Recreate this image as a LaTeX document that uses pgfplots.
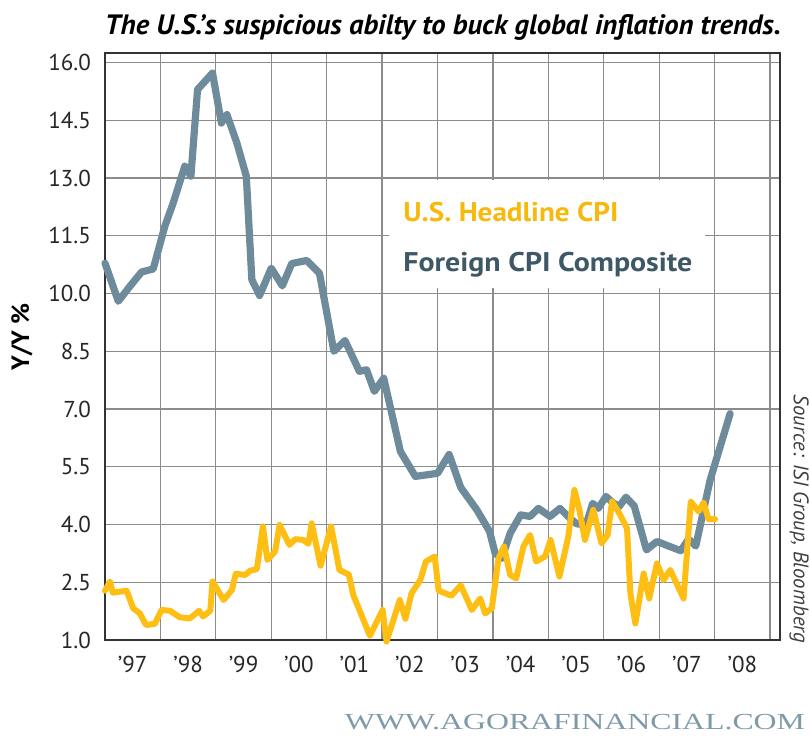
\documentclass[border=0pt]{standalone}
\usepackage{pgfplots}
\pgfplotsset{compat=1.18}
\usepackage{fontspec}
\usepackage{graphicx}
\setmainfont{PT Sans}
\newfontfamily\serifmark{Liberation Serif}
\definecolor{foreign}{HTML}{6E8B9B}
\definecolor{foreigntext}{HTML}{3F5866}
\definecolor{uscpi}{HTML}{FFBE14}
\definecolor{ustext}{HTML}{F7B90C}
\definecolor{mark}{HTML}{7F9AA8}
\begin{document}
\begin{tikzpicture}
\path[use as bounding box] (-52.5pt,-50pt) rectangle (352.5pt,320pt);
\begin{axis}[
  at={(0,0)}, anchor=south west,
  width=337.5pt, height=293.5pt, scale only axis,
  xmin=1997, xmax=2009.18, ymin=1, ymax=16.25,
  xtick={1997.5,1998.5,1999.5,2000.5,2001.5,2002.5,2003.5,2004.5,2005.5,2006.5,2007.5,2008.5},
  xticklabels={’97,’98,’99,’00,’01,’02,’03,’04,’05,’06,’07,’08},
  minor xtick={1998,1999,2000,2001,2002,2003,2004,2005,2006,2007,2008,2009},
  ytick={1,2.5,4,5.5,7,8.5,10,11.5,13,14.5,16},
  yticklabels={1.0,2.5,4.0,5.5,7.0,8.5,10.0,11.5,13.0,14.5,16.0},
  xmajorgrids=false, xminorgrids=true, ymajorgrids=true,
  grid style={black!45, line width=0.6pt},
  minor grid style={black!45, line width=0.6pt},
  major tick length=0pt, minor tick length=0pt,
  axis line style={line width=1.1pt, black!80},
  tick label style={font=\fontsize{11.5}{13}\selectfont, black!85},
  yticklabel style={xshift=-3.5pt},
  xticklabel style={yshift=-4.5pt},
  /pgf/number format/assume math mode=true,
  clip=false,
]
\addplot[foreign, line width=3.6pt, line join=round, line cap=round] coordinates {
(1997.00,10.79) (1997.24,9.80) (1997.45,10.19) (1997.66,10.56) (1997.87,10.64)
(1998.08,11.75) (1998.23,12.35) (1998.44,13.31) (1998.55,13.05) (1998.67,15.30)
(1998.94,15.73) (1999.10,14.43) (1999.20,14.65) (1999.38,13.91) (1999.55,13.05)
(1999.65,10.36) (1999.79,9.95) (2000.00,10.66) (2000.20,10.20) (2000.37,10.78)
(2000.64,10.86) (2000.87,10.53) (2001.13,8.50) (2001.33,8.78) (2001.59,7.98)
(2001.72,8.02) (2001.86,7.46) (2002.03,7.80) (2002.33,5.90) (2002.60,5.25)
(2003.00,5.33) (2003.21,5.82) (2003.42,4.96) (2003.71,4.38) (2003.94,3.82)
(2004.04,3.25) (2004.16,3.12) (2004.31,3.77) (2004.50,4.25) (2004.67,4.21)
(2004.82,4.42) (2005.03,4.21) (2005.21,4.42) (2005.39,4.16) (2005.51,4.02)
(2005.68,3.99) (2005.80,4.55) (2005.90,4.42) (2006.04,4.73) (2006.16,4.57)
(2006.28,4.47) (2006.40,4.71) (2006.55,4.48) (2006.77,3.34) (2006.96,3.56)
(2007.17,3.44) (2007.39,3.32) (2007.53,3.62) (2007.66,3.44) (2007.92,5.16)
(2008.28,6.88)
};
\addplot[uscpi, line width=3.0pt, line join=round, line cap=round] coordinates {
(1997.00,2.28) (1997.09,2.52) (1997.14,2.23) (1997.39,2.28) (1997.51,1.82)
(1997.63,1.69) (1997.74,1.39) (1997.90,1.42) (1998.02,1.78) (1998.17,1.76)
(1998.35,1.59) (1998.53,1.56) (1998.70,1.76) (1998.77,1.61) (1998.90,1.76)
(1998.94,2.52) (1999.14,2.04) (1999.29,2.30) (1999.36,2.72) (1999.53,2.69)
(1999.62,2.80) (1999.74,2.84) (1999.85,3.95) (1999.93,3.08) (2000.07,3.30)
(2000.15,3.99) (2000.33,3.47) (2000.43,3.62) (2000.58,3.60) (2000.67,3.50)
(2000.73,4.03) (2000.89,2.93) (2001.08,3.95) (2001.23,2.82) (2001.40,2.70)
(2001.48,2.17) (2001.78,1.11) (2002.01,1.78) (2002.08,0.96) (2002.32,2.04)
(2002.42,1.55) (2002.53,2.21) (2002.69,2.56) (2002.79,3.04) (2002.95,3.17)
(2003.02,2.28) (2003.25,2.15) (2003.42,2.42) (2003.62,1.78) (2003.77,2.08)
(2003.86,1.69) (2003.98,1.82) (2004.10,3.12) (2004.20,3.43) (2004.31,2.69)
(2004.42,2.60) (2004.55,3.43) (2004.67,3.73) (2004.78,3.04) (2004.94,3.17)
(2005.04,3.60) (2005.20,2.65) (2005.36,3.69) (2005.47,4.90) (2005.56,4.38)
(2005.66,3.60) (2005.81,4.38) (2005.96,3.51) (2006.07,3.73) (2006.15,4.60)
(2006.28,4.29) (2006.42,3.90) (2006.48,2.21) (2006.57,1.43) (2006.72,2.73)
(2006.82,2.08) (2006.96,2.99) (2007.08,2.56) (2007.20,2.82) (2007.44,2.08)
(2007.57,4.60) (2007.71,4.34) (2007.80,4.57) (2007.89,4.14) (2008.01,4.14)
};
\fill[white] (axis cs:2002.13,12.96) rectangle (axis cs:2007.83,10.15);
\end{axis}
% legend texts
\node[anchor=west, inner sep=0pt, text=ustext, font=\fontsize{13.5}{15}\selectfont\bfseries] at (149pt,214pt) {\resizebox{107.5pt}{\height}{U.S. Headline CPI}};
\node[anchor=west, inner sep=0pt, text=foreigntext, font=\fontsize{13.5}{15}\selectfont\bfseries] at (149pt,187.5pt) {\resizebox{144.5pt}{\height}{Foreign CPI Composite}};
% title
\node[anchor=base, inner sep=0pt, font=\fontsize{14}{16}\selectfont\bfseries\itshape] at (169pt,302.5pt) {\resizebox{338pt}{\height}{The U.S.’s suspicious abilty to buck global inflation trends.}};
% y label
\node[rotate=90, inner sep=0pt, font=\fontsize{12.5}{14}\selectfont\bfseries] at (-41.5pt,151.5pt) {Y/Y \%};
% source
\node[rotate=-90, inner sep=0pt, text=black!75, font=\fontsize{10.5}{12}\selectfont\itshape] at (347pt,60.5pt) {\resizebox{124pt}{\height}{Source: ISI Group, Bloomberg}};
% watermark
\node[inner sep=0pt, text=mark, font=\fontsize{11.5}{13}\selectfont\serifmark] at (235pt,-41pt) {\resizebox{230pt}{\height}{WWW.AGORAFINANCIAL.COM}};
\end{tikzpicture}
\end{document}
